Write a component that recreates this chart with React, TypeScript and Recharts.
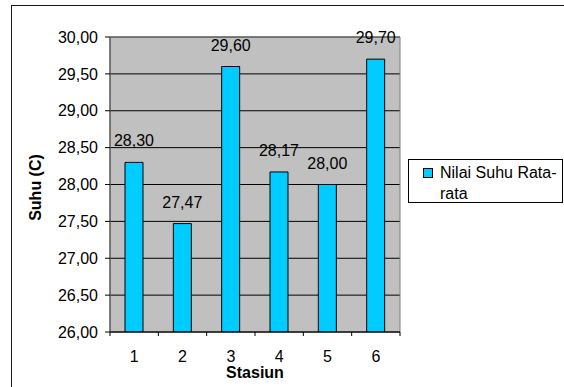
import React from "react";
import {
  BarChart,
  Bar,
  XAxis,
  YAxis,
  CartesianGrid,
  LabelList,
  Legend,
  ReferenceArea,
  Label,
} from "recharts";

// Average temperature per sampling station
const stations = ["1", "2", "3", "4", "5", "6"];
const avgTemp = [28.3, 27.47, 29.6, 28.17, 28.0, 29.7];
const yTicks = [26, 26.5, 27, 27.5, 28, 28.5, 29, 29.5, 30];

const seriesName = "Nilai Suhu Rata-rata";
const xTitle = "Stasiun";
const yTitle = "Suhu (C)";

const data = stations.map((s, i) => ({ stasiun: s, suhu: avgTemp[i] }));

const FONT = '"Liberation Sans", Arial, sans-serif';
const W = 564;
const H = 387;
const MARGIN = { top: 37, right: 9, bottom: 0, left: 0 };
const Y_AXIS_W = 110;
const LEGEND_W = 155;
const PLOT_W = W - MARGIN.left - MARGIN.right - Y_AXIS_W - LEGEND_W;
const BAND = PLOT_W / stations.length;

const fmt = (v: number) => v.toFixed(2).replace(".", ",");

// Station label at the band centre, tick marks at band edges
const StationTick = (props: any) => {
  const { x, y, payload, index } = props;
  const left = x - BAND / 2;
  const right = x + BAND / 2;
  return (
    <g>
      <line x1={left} y1={y} x2={left} y2={y + 4} stroke="#000" />
      {index === stations.length - 1 && (
        <line x1={right} y1={y} x2={right} y2={y + 4} stroke="#000" />
      )}
      <text
        x={x}
        y={y + 30}
        textAnchor="middle"
        fontSize={16}
        fontFamily={FONT}
        fill="#000"
      >
        {payload.value}
      </text>
    </g>
  );
};

const LegendBox = (props: any) => {
  const item = (props.payload || [])[0];
  return (
    <div
      style={{
        boxSizing: "border-box",
        width: LEGEND_W,
        height: 44,
        border: "1px solid #000",
        background: "#fff",
        position: "relative",
        fontFamily: FONT,
        fontSize: 16,
        color: "#000",
      }}
    >
      <div
        style={{
          position: "absolute",
          left: 14,
          top: 8,
          width: 10,
          height: 10,
          boxSizing: "border-box",
          background: "#00ccff",
          border: "1px solid #000",
        }}
      />
      <div
        style={{
          position: "absolute",
          left: 31,
          top: 2,
          width: 120,
          lineHeight: "21px",
          textAlign: "left",
        }}
      >
        {item ? item.value : seriesName}
      </div>
    </div>
  );
};

export default function App() {
  return (
    <div
      style={{
        position: "absolute",
        left: 0,
        top: 0,
        width: W,
        height: H,
        overflow: "hidden",
        background: "#fff",
      }}
    >
      <div
        style={{
          position: "absolute",
          left: 11,
          top: 5,
          width: 700,
          height: 500,
          border: "1px solid #1a1a1a",
        }}
      />
      <BarChart
        width={W}
        height={H}
        data={data}
        margin={MARGIN}
        barSize={18}
        style={{ position: "absolute", left: 0, top: 0 }}
      >
        <CartesianGrid
          vertical={false}
          stroke="#000"
          fill="#c0c0c0"
          fillOpacity={1}
        />
        <ReferenceArea
          y1={26}
          y2={30}
          fill="none"
          stroke="#808080"
          strokeWidth={1}
        />
        <XAxis
          dataKey="stasiun"
          height={55}
          tickLine={false}
          tickSize={0}
          tickMargin={0}
          axisLine={{ stroke: "#000" }}
          tick={<StationTick />}
          interval={0}
        >
          <Label
            content={(p: any) => {
              const vb = p.viewBox;
              return (
                <text
                  x={vb.x + vb.width / 2}
                  y={vb.y + 46}
                  textAnchor="middle"
                  fontSize={16}
                  fontWeight="bold"
                  fontFamily={FONT}
                  fill="#000"
                >
                  {xTitle}
                </text>
              );
            }}
          />
        </XAxis>
        <YAxis
          width={Y_AXIS_W}
          domain={[26, 30]}
          ticks={yTicks}
          tickFormatter={fmt}
          tickSize={5}
          tickMargin={7}
          interval={0}
          allowDataOverflow
          axisLine={{ stroke: "#404040" }}
          tickLine={{ stroke: "#000" }}
          tick={{ fill: "#000", fontSize: 16, fontFamily: FONT }}
        >
          <Label
            content={(p: any) => {
              const vb = p.viewBox;
              const cx = 35;
              const cy = vb.y + vb.height / 2 + 3;
              return (
                <text
                  x={cx}
                  y={cy}
                  transform={`rotate(-90, ${cx}, ${cy})`}
                  textAnchor="middle"
                  dominantBaseline="central"
                  fontSize={16}
                  fontWeight="bold"
                  fontFamily={FONT}
                  fill="#000"
                >
                  {yTitle}
                </text>
              );
            }}
          />
        </YAxis>
        <Legend
          layout="vertical"
          align="right"
          verticalAlign="middle"
          content={<LegendBox />}
          wrapperStyle={{ left: 408, top: 159, width: LEGEND_W, height: 44 }}
        />
        <Bar
          dataKey="suhu"
          name={seriesName}
          fill="#00ccff"
          stroke="#000"
          strokeWidth={1}
          isAnimationActive={false}
        >
          <LabelList
            dataKey="suhu"
            position="top"
            offset={16}
            formatter={(v: any) => fmt(Number(v))}
            fill="#000"
            fontSize={16}
            fontFamily={FONT}
          />
        </Bar>
      </BarChart>
    </div>
  );
}
